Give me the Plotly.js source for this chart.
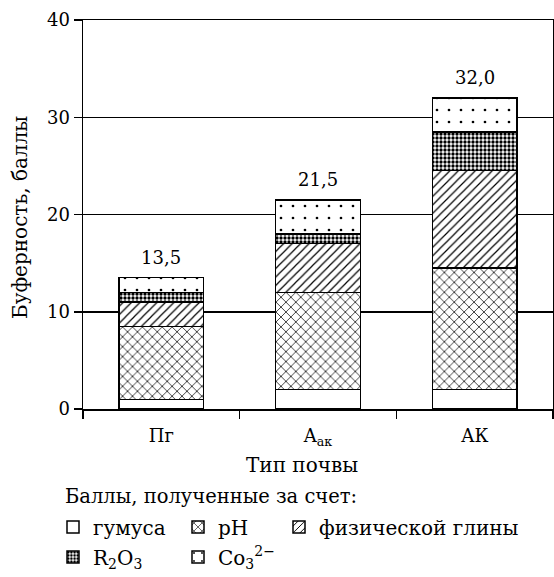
<!DOCTYPE html>
<html>
<head>
<meta charset="utf-8">
<script src="https://cdn.plot.ly/plotly-3.0.1.min.js"></script>
<style>html,body{margin:0;padding:0;background:#fff;}#chart{width:554px;height:577px;}</style>
</head>
<body>
<div id="chart"></div>
<script>
// Data
const categories = ["Пг", "A<sub>ак</sub>", "АК"];
const humus = [1, 2, 2];
const ph = [7.5, 10, 12.5];
const clay = [2.5, 5, 10];
const r2o3 = [1, 1, 4];
const co3 = [1.5, 3.5, 3.5];
const seriesNames = ["гумуса", "pH", "физической глины", "R<sub>2</sub>O<sub>3</sub>", "Co<sub>3</sub><sup>2−</sup>"];
const xTitle = "Тип почвы";
const yTitle = "Буферность, баллы";
const legendTitle = "Баллы, полученные за счет:";

const FONT = "DejaVu Serif";
const series = [humus, ph, clay, r2o3, co3];
const patterns = [
  {shape: "", fgcolor: "#000", bgcolor: "#fff"},
  {shape: "x", size: 7, solidity: 0.2, fgcolor: "#000", bgcolor: "#fff"},
  {shape: "/", size: 6, solidity: 0.2, fgcolor: "#000", bgcolor: "#fff"},
  {shape: ".", size: 4, solidity: 0.55, fgcolor: "#000", bgcolor: "#fff"},
  {shape: ".", size: 12, solidity: 0.04, fgcolor: "#000", bgcolor: "#fff"}
];
const legendNames = ["legend", "legend2", "legend3", "legend4", "legend5"];
// legend positions (container fractions)
const legendPos = [
  {x: 53/554, y: 1 - 527/577},
  {x: 178/554, y: 1 - 527/577},
  {x: 279/554, y: 1 - 527/577},
  {x: 53/554, y: 1 - 557/577},
  {x: 178/554, y: 1 - 557/577}
];

const traces = series.map((vals, i) => ({
  type: "bar",
  x: categories,
  y: vals,
  name: seriesNames[i],
  legend: legendNames[i],
  width: 0.54,
  marker: {color: "#fff", line: {color: "#000", width: 1.5}, pattern: patterns[i]},
  hoverinfo: "skip"
}));

const totals = categories.map((c, k) => series.reduce((s, arr) => s + arr[k], 0));

const annotations = categories.map((c, k) => ({
  x: c, y: totals[k], xref: "x", yref: "y",
  text: totals[k].toFixed(1).replace(".", ","),
  showarrow: false, yanchor: "bottom", yshift: 8,
  font: {family: FONT, size: 18, color: "#000"}
}));
// legend title
annotations.push({
  x: (63 - 83) / 470, y: (409 - 496) / 389, xref: "paper", yref: "paper",
  text: legendTitle, showarrow: false,
  xanchor: "left", yanchor: "middle",
  font: {family: FONT, size: 19.5, color: "#000"}
});
// x axis title
annotations.push({
  x: (302 - 83) / 470, y: (409 - 465) / 389, xref: "paper", yref: "paper",
  text: xTitle, showarrow: false,
  xanchor: "center", yanchor: "middle",
  font: {family: FONT, size: 20, color: "#000"}
});
// y axis title
annotations.push({
  x: (20 - 83) / 470, y: (409 - 218) / 389, xref: "paper", yref: "paper",
  text: yTitle, showarrow: false, textangle: -90,
  xanchor: "center", yanchor: "middle",
  font: {family: FONT, size: 20, color: "#000"}
});

const layout = {
  width: 554, height: 577,
  margin: {l: 83, r: 1, t: 20, b: 168, autoexpand: false},
  paper_bgcolor: "#fff", plot_bgcolor: "#fff",
  barmode: "stack",
  font: {family: FONT, size: 18, color: "#000"},
  xaxis: {
    type: "category",
    range: [-0.5, 2.5],
    showline: true, linecolor: "#000", linewidth: 1.5, mirror: true,
    ticks: "outside", tickson: "boundaries", ticklen: 8, tickwidth: 1.5, tickcolor: "#000",
    showgrid: false, tickangle: 0, automargin: false, ticklabelstandoff: 10,
    tickfont: {family: FONT, size: 18}
  },
  yaxis: {
    range: [0, 40],
    tickvals: [0, 10, 20, 30, 40],
    showline: true, linecolor: "#000", linewidth: 1.5, mirror: true,
    ticks: "outside", ticklen: 8, tickwidth: 1.5, tickcolor: "#000",
    showgrid: true, gridcolor: "#000", gridwidth: 1.5,
    zeroline: false, automargin: false,
    tickfont: {family: FONT, size: 18}
  },
  annotations: annotations,
  showlegend: true
};
legendNames.forEach((ln, i) => {
  layout[ln] = {
    xref: "container", yref: "container",
    x: legendPos[i].x, y: legendPos[i].y,
    xanchor: "left", yanchor: "middle",
    orientation: "v",
    bgcolor: "rgba(0,0,0,0)", borderwidth: 0,
    font: {family: FONT, size: 20, color: "#000"}
  };
});

Plotly.newPlot("chart", traces, layout, {displayModeBar: false, staticPlot: true});
</script>
</body>
</html>
